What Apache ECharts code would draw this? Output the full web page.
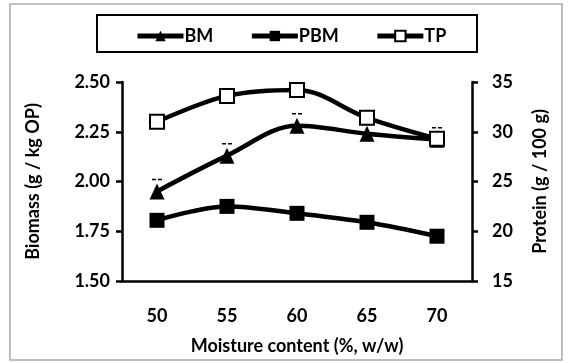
<!DOCTYPE html>
<html><head><meta charset="utf-8">
<script src="https://cdn.jsdelivr.net/npm/echarts@6/dist/echarts.min.js"></script>
<style>html,body{margin:0;padding:0;background:#fff}#c{width:570px;height:363px}</style>
</head><body><div id="c"></div>
<script>
const categories = ['50','55','60','65','70'];
const bm  = [1.95, 2.13, 2.28, 2.24, 2.21];
const pbm = [21.1, 22.5, 21.8, 20.9, 19.5];
const tp  = [31.0, 33.6, 34.2, 31.4, 29.3];
const bmErrTop = [2.01, 2.19, 2.34, 2.30, 2.27];
const leftTicks = {min:1.5, max:2.5, interval:0.25};
const rightTicks = {min:15, max:35, interval:5};

const FONT = 'Lato';
const chart = echarts.init(document.getElementById('c'));
const axisLine = {lineStyle:{color:'#000', width:2.5}};
const axisTick = {inside:false, length:6, lineStyle:{color:'#000', width:2.5}};
const lbl = {color:'#000', fontFamily:FONT, fontWeight:'bold', fontSize:18};
const nameStyle = {color:'#000', fontFamily:FONT, fontWeight:'bold', fontSize:18};

chart.setOption({
  backgroundColor:'#fff',
  animation:false,
  graphic:[
    {type:'rect', shape:{x:10,y:4,width:552,height:356}, style:{fill:'none', stroke:'#aaa', lineWidth:1.5}, silent:true},
    {type:'rect', shape:{x:97,y:15,width:380,height:37}, style:{fill:'#fff', stroke:'#000', lineWidth:2}, silent:true, z:-1}
  ],
  legend:{
    left:130, top:22, itemGap:36, itemWidth:46, itemHeight:13,
    lineStyle:{width:5, color:'#000'},
    textStyle:{color:'#000', fontFamily:FONT, fontWeight:'bold', fontSize:18, padding:[0,0,0,-4]},
    data:['BM','PBM','TP']
  },
  grid:{left:122, right:98, top:82, bottom:82},
  xAxis:{
    type:'category', data:categories, boundaryGap:true,
    axisLine:axisLine, axisTick:axisTick, axisLabel:Object.assign({margin:26}, lbl),
    name:'Moisture content (%, w/w)', nameLocation:'middle', nameGap:56, nameTextStyle:nameStyle,
    splitLine:{show:false}
  },
  yAxis:[
    {type:'value', min:leftTicks.min, max:leftTicks.max, interval:leftTicks.interval,
     axisLine:Object.assign({show:true}, axisLine), axisTick:Object.assign({show:true}, axisTick),
     axisLabel:Object.assign({margin:12, formatter:v=>v.toFixed(2)}, lbl),
     splitLine:{show:false},
     name:'Biomass (g / kg OP)', nameLocation:'middle', nameGap:80, nameTextStyle:nameStyle},
    {type:'value', position:'right', min:rightTicks.min, max:rightTicks.max, interval:rightTicks.interval,
     axisLine:Object.assign({show:true}, axisLine), axisTick:Object.assign({show:true}, axisTick),
     axisLabel:Object.assign({margin:20}, lbl),
     splitLine:{show:false},
     name:'Protein (g / 100 g)', nameLocation:'middle', nameGap:59, nameTextStyle:nameStyle}
  ],
  series:[
    {name:'BM', type:'line', yAxisIndex:0, data:bm, smooth:0.35,
     symbol:'triangle', symbolSize:[15,16], lineStyle:{color:'#000', width:4.5},
     itemStyle:{color:'#000', borderColor:'#000', borderWidth:0}, z:3},
    {name:'PBM', type:'line', yAxisIndex:1, data:pbm, smooth:0.35,
     symbol:'rect', symbolSize:15, lineStyle:{color:'#000', width:4.5},
     itemStyle:{color:'#000', borderColor:'#000', borderWidth:0}, z:3},
    {name:'TP', type:'line', yAxisIndex:1, data:tp, smooth:0.35,
     symbol:'rect', symbolSize:14, lineStyle:{color:'#000', width:4.5},
     itemStyle:{color:'#fff', borderColor:'#000', borderWidth:2}, z:4},
    {name:'err', type:'custom', yAxisIndex:0, data:bmErrTop.map((v,i)=>[i,v]), z:2,
     renderItem:function(params, api){
       const p = api.coord([api.value(0), api.value(1)]);
       return {type:'line', shape:{x1:p[0]-5, y1:p[1], x2:p[0]+5, y2:p[1]},
               style:{stroke:'#000', lineWidth:1.5, lineDash:[4,2]}};
     }}
  ]
});
</script></body></html>
